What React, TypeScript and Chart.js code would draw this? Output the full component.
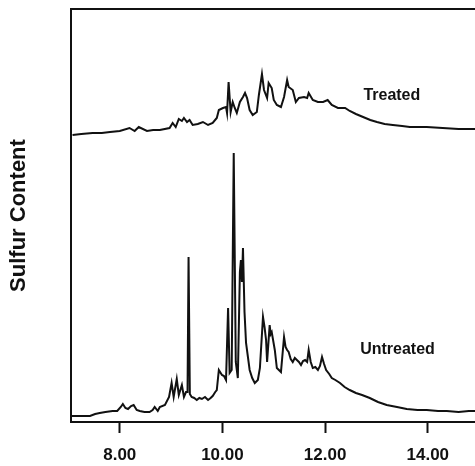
import React, { useEffect, useRef } from "react";
import { Chart, registerables } from "chart.js";

Chart.register(...registerables);

// Retention time (min) and sulfur detector signal
const untreatedTime = [
  7.06, 7.25, 7.42, 7.52, 7.61, 7.72, 7.86, 7.95,
  8.02, 8.06, 8.11, 8.16, 8.22, 8.27, 8.33, 8.39,
  8.48, 8.58, 8.64, 8.68, 8.74, 8.78, 8.88, 8.96,
  9.01, 9.05, 9.11, 9.15, 9.21, 9.25, 9.29, 9.32,
  9.34, 9.365, 9.4, 9.45, 9.5, 9.55, 9.6, 9.66,
  9.72, 9.77, 9.81, 9.86, 9.89, 9.93, 9.99, 10.03,
  10.07, 10.11, 10.14, 10.18, 10.22, 10.26, 10.3, 10.34,
  10.36, 10.38, 10.4, 10.43, 10.46, 10.53, 10.58, 10.63,
  10.69, 10.73, 10.79, 10.82, 10.85, 10.87, 10.92, 10.94,
  10.96, 11.02, 11.06, 11.14, 11.2, 11.23, 11.26, 11.29,
  11.33, 11.37, 11.41, 11.45, 11.49, 11.53, 11.57, 11.61,
  11.65, 11.68, 11.72, 11.76, 11.81, 11.86, 11.9, 11.94,
  11.98, 12.02, 12.08, 12.13, 12.2, 12.29, 12.38, 12.48,
  12.6, 12.72, 12.87, 13.03, 13.2, 13.4, 13.59, 13.8,
  13.98, 14.2, 14.37, 14.6, 14.8, 14.92,
];
const untreatedSignal = [
  6, 6, 6, 8, 9, 10, 11, 11,
  15, 18, 14, 13, 16, 17, 12, 11,
  10, 10, 12, 15, 11, 15, 17, 25,
  39, 25, 43, 27, 37, 25, 30, 30,
  165, 28, 25, 24, 22, 24, 23, 25,
  22, 24, 26, 30, 32, 52, 47, 46,
  42, 114, 49, 52, 269, 60, 44, 150,
  162, 140, 174, 110, 79, 52, 44, 39,
  42, 54, 105, 95, 82, 60, 97, 88,
  90, 72, 54, 50, 85, 75, 72, 70,
  63, 60, 64, 62, 60, 57, 61, 62,
  60, 72, 60, 54, 55, 52, 56, 65,
  58, 52, 48, 44, 42, 39, 35, 32,
  29, 27, 24, 20, 17, 15, 13, 12,
  12, 11, 11, 10, 11, 11,
];

const treatedTime = [
  7.08, 7.25, 7.47, 7.65, 7.81, 8.0, 8.19, 8.29,
  8.37, 8.53, 8.65, 8.78, 8.97, 9.03, 9.09, 9.15,
  9.21, 9.25, 9.31, 9.36, 9.42, 9.52, 9.62, 9.72,
  9.81, 9.89, 9.93, 10.01, 10.07, 10.09, 10.12, 10.16,
  10.2, 10.24, 10.28, 10.34, 10.4, 10.44, 10.48, 10.53,
  10.59, 10.67, 10.71, 10.77, 10.81, 10.87, 10.9, 10.96,
  11.0, 11.06, 11.14, 11.2, 11.26, 11.29, 11.37, 11.43,
  11.49, 11.59, 11.65, 11.68, 11.76, 11.86, 11.96, 12.05,
  12.13, 12.25, 12.39, 12.48, 12.6, 12.74, 12.88, 13.01,
  13.16, 13.32, 13.5, 13.65, 13.98, 14.29, 14.6, 14.92,
];
const treatedSignal = [
  287, 288, 289, 289, 290, 291, 294, 291,
  295, 291, 292, 292, 294, 299, 295, 303,
  301, 304, 300, 302, 297, 298, 300, 297,
  299, 304, 312, 314, 315, 309, 340, 310,
  320, 314, 309, 320, 325, 329, 324, 312,
  307, 310, 327, 348, 332, 324, 339, 334,
  322, 317, 315, 325, 342, 335, 332, 320,
  324, 325, 324, 329, 322, 320, 320, 322,
  317, 314, 314, 311, 308, 305, 302, 300,
  298, 297, 296, 295, 295, 294, 293, 293,
];

const xTickValues = [8, 10, 12, 14];
const traceLabels = ["Treated", "Untreated"];
const traceLabelTime = [13.3, 13.41];
const traceLabelSignal = [326, 72];

const FONT = "'Liberation Sans', Arial, Helvetica, sans-serif";
const INK = "#111111";

const labelPlugin = {
  id: "traceLabels",
  afterDatasetsDraw(chart: any) {
    const { ctx, scales } = chart;
    ctx.save();
    ctx.fillStyle = INK;
    ctx.font = `bold 16px ${FONT}`;
    ctx.textAlign = "center";
    ctx.textBaseline = "middle";
    traceLabels.forEach((t, i) => {
      ctx.fillText(
        t,
        scales.x.getPixelForValue(traceLabelTime[i]),
        scales.y.getPixelForValue(traceLabelSignal[i])
      );
    });
    ctx.restore();
  },
};

export default function App() {
  const ref = useRef<HTMLCanvasElement | null>(null);

  useEffect(() => {
    if (!ref.current) return;
    const chart = new Chart(ref.current, {
      type: "line",
      data: {
        datasets: [
          {
            label: "Treated",
            data: treatedTime.map((t, i) => ({ x: t, y: treatedSignal[i] })),
            borderColor: INK,
            borderWidth: 2,
            pointRadius: 0,
            tension: 0,
            fill: false,
          },
          {
            label: "Untreated",
            data: untreatedTime.map((t, i) => ({ x: t, y: untreatedSignal[i] })),
            borderColor: INK,
            borderWidth: 2,
            pointRadius: 0,
            tension: 0,
            fill: false,
          },
        ],
      },
      options: {
        animation: false,
        responsive: false,
        maintainAspectRatio: false,
        devicePixelRatio: 1,
        layout: { padding: { top: 9, left: 0, right: 0, bottom: 0 } },
        plugins: {
          legend: { display: false },
          tooltip: { enabled: false },
        },
        scales: {
          x: {
            type: "linear",
            position: "bottom",
            min: 7.05,
            max: 14.92,
            afterBuildTicks: (s: any) => {
              s.ticks = xTickValues.map((v) => ({ value: v }));
            },
            afterFit: (s: any) => {
              s.height = 44;
            },
            grid: {
              display: true,
              drawOnChartArea: false,
              drawTicks: true,
              tickLength: 11,
              tickWidth: 2,
              color: INK,
            },
            border: { display: true, width: 2, color: INK },
            ticks: {
              color: INK,
              padding: 12,
              maxRotation: 0,
              autoSkip: false,
              font: { family: FONT, weight: "bold", size: 17 },
              callback: (v: any) => Number(v).toFixed(2),
            },
          },
          xTop: {
            type: "linear",
            position: "top",
            min: 7.05,
            max: 14.92,
            grid: { display: false, drawTicks: false },
            border: { display: true, width: 2, color: INK },
            ticks: { display: false },
          },
          y: {
            type: "linear",
            min: 0,
            max: 413,
            afterFit: (s: any) => {
              s.width = 71;
            },
            grid: { display: false, drawTicks: false },
            border: { display: true, width: 2, color: INK },
            ticks: { display: false },
            title: {
              display: true,
              text: "Sulfur Content",
              color: INK,
              font: { family: FONT, weight: "bold", size: 22 },
              padding: { top: 6, bottom: 0 },
            },
          },
        },
      },
      plugins: [labelPlugin],
    });
    return () => chart.destroy();
  }, []);

  return (
    <div style={{ position: "absolute", left: 0, top: 0, width: 475, height: 466, background: "#fff" }}>
      <canvas ref={ref} width={475} height={466} style={{ display: "block" }} />
    </div>
  );
}
